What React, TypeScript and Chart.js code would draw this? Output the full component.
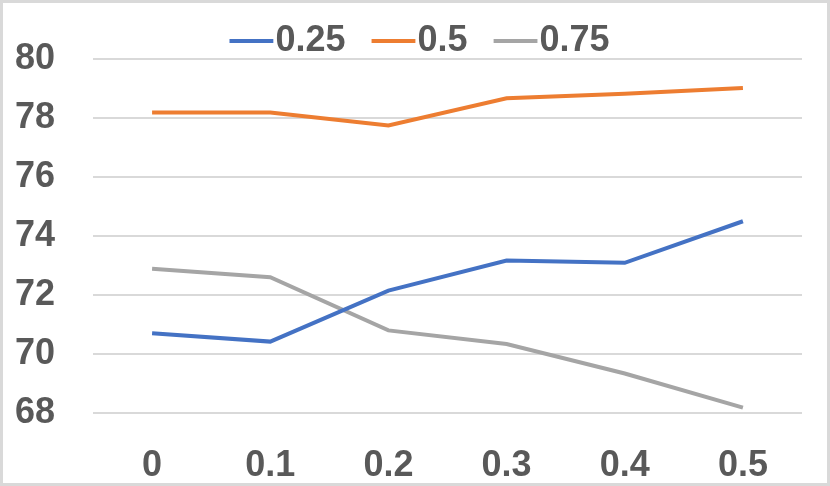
import { useEffect, useRef } from "react";
import Chart from "chart.js/auto";

const categories = ["0", "0.1", "0.2", "0.3", "0.4", "0.5"];
const series025 = [70.7, 70.42, 72.15, 73.17, 73.09, 74.5];
const series05 = [78.19, 78.19, 77.75, 78.67, 78.82, 79.02];
const series075 = [72.89, 72.6, 70.8, 70.34, 69.34, 68.18];
const seriesNames = ["0.25", "0.5", "0.75"];
const yTicks = [68, 70, 72, 74, 76, 78, 80];

const FONT = "'Liberation Sans', Arial, sans-serif";
const TEXT = "#595959";

// fixed legend height (sets the plot top), then nudge the legend box up and right
const legendPlace = {
	id: "legendPlace",
	beforeInit(chart: any) {
		const fit = chart.legend.fit;
		chart.legend.fit = function () {
			fit.call(this);
			this.height = 56;
		};
	},
	afterLayout(chart: any) {
		chart.legend.top -= 22;
		chart.legend.left += 19;
		chart.legend.right += 19;
	},
};

export default function App() {
	const canvasRef = useRef<HTMLCanvasElement>(null);
	const chartRef = useRef<Chart | null>(null);

	useEffect(() => {
		document.body.style.margin = "0";
		if (!canvasRef.current) return;
		if (chartRef.current) chartRef.current.destroy();

		const line = (label: string, data: number[], color: string) => ({
			label,
			data,
			borderColor: color,
			backgroundColor: color,
			borderWidth: 4,
			pointRadius: 0,
			tension: 0,
			fill: false,
		});

		chartRef.current = new Chart(canvasRef.current, {
			type: "line",
			data: {
				labels: categories,
				datasets: [
					line(seriesNames[0], series025, "#4472C4"),
					line(seriesNames[1], series05, "#ED7D31"),
					line(seriesNames[2], series075, "#A5A5A5"),
				],
			},
			plugins: [legendPlace],
			options: {
				animation: false,
				responsive: false,
				maintainAspectRatio: false,
				layout: { padding: { left: 12, right: 25, top: 0, bottom: 0 } },
				plugins: {
					tooltip: { enabled: false },
					legend: {
						position: "top",
						labels: {
							usePointStyle: true,
							pointStyle: "line",
							boxWidth: 12,
							boxHeight: 31,
							padding: 42,
							color: TEXT,
							font: { family: FONT, size: 36, weight: "bold" },
						},
					},
				},
				scales: {
					x: {
						offset: true,
						afterFit: (axis) => {
							axis.height = 70;
						},
						grid: { display: false, drawTicks: false },
						border: { display: false },
						ticks: {
							color: TEXT,
							padding: 31,
							maxRotation: 0,
							font: { family: FONT, size: 36, weight: "bold" },
						},
					},
					y: {
						min: 68,
						max: 80,
						afterFit: (axis) => {
							axis.width = 78;
						},
						afterBuildTicks: (axis) => {
							axis.ticks = yTicks.map((v) => ({ value: v }));
						},
						grid: { color: "#d9d9d9", lineWidth: 2, drawTicks: false },
						border: { display: false },
						ticks: {
							color: TEXT,
							padding: 0,
							crossAlign: "far",
							font: { family: FONT, size: 36, weight: "bold" },
						},
					},
				},
			},
		});

		return () => {
			if (chartRef.current) {
				chartRef.current.destroy();
				chartRef.current = null;
			}
		};
	}, []);

	return (
		<div
			style={{
				position: "absolute",
				left: 0,
				top: 0,
				width: 830,
				height: 486,
				boxSizing: "border-box",
				border: "3px solid #d9d9d9",
				background: "#fff",
			}}
		>
			<canvas ref={canvasRef} width={824} height={480} style={{ display: "block" }} />
		</div>
	);
}
